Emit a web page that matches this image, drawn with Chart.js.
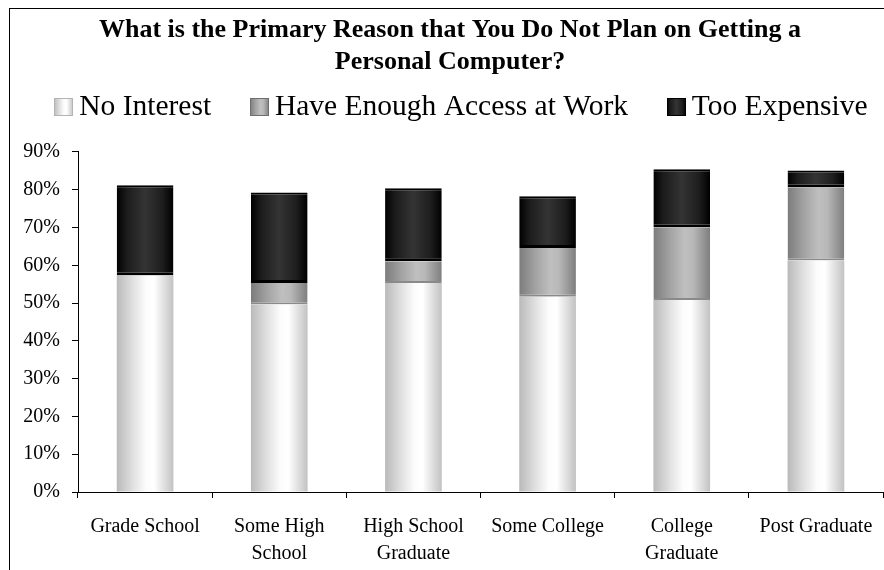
<!DOCTYPE html>
<html>
<head>
<meta charset="utf-8">
<script src="https://cdn.jsdelivr.net/npm/chart.js@4"></script>
<style>
  html, body { margin: 0; padding: 0; background: #fff; overflow: hidden; }
  #quadro { width: 900px; height: 570px; }
</style>
</head>
<body>
<div id="quadro"><canvas id="grafico" width="900" height="570"></canvas></div>
<script>
// Categorias de escolaridade
var categorias = [
  'Grade School',
  ['Some High', 'School'],
  ['High School', 'Graduate'],
  'Some College',
  ['College', 'Graduate'],
  'Post Graduate'
];

// Percentuais por motivo (empilhados)
var semInteresse = [57.3, 49.6, 55.3, 51.7, 50.8, 61.3];
var acessoNoTrabalho = [0, 5.7, 5.8, 12.9, 19.2, 19.3];
var muitoCaro = [23.9, 24.0, 19.3, 13.7, 15.4, 4.5];

var ticksY = [0, 10, 20, 30, 40, 50, 60, 70, 80, 90];

var FONTE = "'Liberation Serif', 'Times New Roman', serif";
var LARGURA_BARRA = 0.4225;

// Paradas do degradê horizontal de cada série (efeito cilindro)
var tonsSemInteresse = [[0, '#bababa'], [0.3, '#e2e2e2'], [0.52, '#fcfcfc'], [0.66, '#ffffff'], [1, '#c2c2c2']];
var tonsAcesso = [[0, '#7c7c7c'], [0.3, '#a4a4a4'], [0.55, '#bfbfbf'], [0.7, '#b8b8b8'], [1, '#7e7e7e']];
var tonsCaro = [[0, '#000000'], [0.18, '#1c1c1c'], [0.5, '#343434'], [0.8, '#1e1e1e'], [1, '#000000']];

function degrade(paradas, solido) {
  return function (ctx) {
    var chart = ctx.chart;
    if (ctx.type !== 'data' || !chart.chartArea) return solido;
    var escalaX = chart.scales.x;
    var centro = escalaX.getPixelForValue(ctx.dataIndex);
    var meia = escalaX.width / categorias.length * LARGURA_BARRA / 2;
    var g = chart.ctx.createLinearGradient(centro - meia, 0, centro + meia, 0);
    paradas.forEach(function (p) { g.addColorStop(p[0], p[1]); });
    return g;
  };
}

// Fundo branco e moldura externa
var moldura = {
  id: 'moldura',
  beforeDraw: function (chart) {
    var c = chart.ctx;
    c.save();
    c.fillStyle = '#fff';
    c.fillRect(0, 0, chart.width, chart.height);
    c.strokeStyle = '#000';
    c.lineWidth = 1;
    c.strokeRect(9.5, 8.5, 881, 600);
    c.restore();
  }
};

// Legenda mais alta e um pouco deslocada, como no Excel
var ALTURA_LEGENDA = 74;
var ajusteLegenda = {
  id: 'ajusteLegenda',
  afterInit: function (chart) {
    var legenda = chart.legend;
    if (!legenda) return;
    var fitOriginal = legenda.fit;
    legenda.fit = function () {
      var larguraMax = this.maxWidth;
      this.maxWidth = larguraMax + 100;
      fitOriginal.call(this);
      this.maxWidth = larguraMax;
      this.width = Math.min(this.width, larguraMax);
      this.height = ALTURA_LEGENDA;
    };
  },
  afterLayout: function (chart) {
    var legenda = chart.legend;
    if (!legenda) return;
    legenda.left += 11 - 30;
    legenda.right += 11 + 30;
    legenda.top -= 24.5;
    legenda.bottom -= 24.5;
  }
};

// Quadradinhos da legenda com o mesmo degradê das barras
var caixasLegenda = {
  id: 'caixasLegenda',
  afterDraw: function (chart) {
    var legenda = chart.legend;
    if (!legenda || !legenda.legendHitBoxes) return;
    var tons = [tonsSemInteresse, tonsAcesso, tonsCaro];
    var bordas = ['#b4b4b4', '#6e6e6e', '#000000'];
    var c = chart.ctx;
    var tam = legenda.options.labels.font.size;
    legenda.legendHitBoxes.forEach(function (hb, i) {
      var w = 19, h = 18;
      var x = Math.round(hb.left), y = Math.round(hb.top + Math.max((tam - h) / 2, 0));
      var g = c.createLinearGradient(x, 0, x + w, 0);
      tons[i].forEach(function (p) { g.addColorStop(p[0], p[1]); });
      c.save();
      c.fillStyle = g;
      c.fillRect(x, y, w, h);
      c.strokeStyle = bordas[i];
      c.lineWidth = 1;
      c.strokeRect(x + 0.5, y + 0.5, w - 1, h - 1);
      c.restore();
    });
  }
};

var ctx = document.getElementById('grafico').getContext('2d');

var grafico = new Chart(ctx, {
  type: 'bar',
  data: {
    labels: categorias,
    datasets: [{
      label: 'No Interest',
      data: semInteresse,
      backgroundColor: degrade(tonsSemInteresse, '#e0e0e0'),
      borderWidth: 0
    }, {
      label: 'Have Enough Access at Work',
      data: acessoNoTrabalho,
      backgroundColor: degrade(tonsAcesso, '#a0a0a0'),
      borderColor: '#8a8a8a',
      borderWidth: { top: 0, left: 0, right: 0, bottom: 2 },
      borderSkipped: false
    }, {
      label: 'Too Expensive',
      data: muitoCaro,
      backgroundColor: degrade(tonsCaro, '#222'),
      borderColor: '#000',
      borderWidth: { top: 2, left: 0, right: 0, bottom: 3 },
      borderSkipped: false
    }]
  },
  options: {
    responsive: false,
    animation: false,
    devicePixelRatio: 1,
    layout: {
      padding: { left: 0, right: 0, top: 0, bottom: 5 }
    },
    datasets: {
      bar: {
        categoryPercentage: 1,
        barPercentage: LARGURA_BARRA
      }
    },
    scales: {
      x: {
        stacked: true,
        afterFit: function (escala) { escala.height = 73; },
        grid: {
          offset: true,
          drawOnChartArea: false,
          drawTicks: true,
          tickLength: 6,
          color: '#000'
        },
        border: { display: true, color: '#000', width: 1 },
        ticks: {
          color: '#000',
          padding: 15,
          maxRotation: 0,
          autoSkip: false,
          font: { family: FONTE, size: 20, lineHeight: 1.35 }
        }
      },
      y: {
        stacked: true,
        min: 0,
        max: 90,
        afterBuildTicks: function (escala) {
          escala.ticks = ticksY.map(function (v) { return { value: v }; });
        },
        afterFit: function (escala) { escala.width = 78; },
        grid: {
          drawOnChartArea: false,
          drawTicks: true,
          tickLength: 6,
          color: '#000'
        },
        border: { display: true, color: '#000', width: 1 },
        ticks: {
          color: '#000',
          padding: 12,
          font: { family: FONTE, size: 20 },
          callback: function (v) { return v + '%'; }
        }
      },
      // eixo vazio à direita só para reservar a margem
      margemDireita: {
        type: 'linear',
        position: 'right',
        display: true,
        grid: { display: false },
        border: { display: false },
        ticks: { display: false },
        afterFit: function (escala) { escala.width = 17; }
      }
    },
    plugins: {
      title: {
        display: true,
        text: ['What is the Primary Reason that You Do Not Plan on Getting a', 'Personal Computer?'],
        color: '#000',
        font: { family: FONTE, size: 26, weight: 'bold', lineHeight: 1.23 },
        padding: { top: 14, bottom: 0 }
      },
      legend: {
        position: 'top',
        labels: {
          color: '#000',
          font: { family: FONTE, size: 29.5 },
          boxWidth: 10,
          boxHeight: 18,
          padding: 39,
          generateLabels: function (chart) {
            var itens = Chart.defaults.plugins.legend.labels.generateLabels(chart);
            itens.forEach(function (item) {
              item.fillStyle = 'rgba(0,0,0,0)';
              item.strokeStyle = 'rgba(0,0,0,0)';
              item.lineWidth = 0;
            });
            return itens;
          }
        }
      },
      tooltip: { enabled: false }
    }
  },
  plugins: [moldura, ajusteLegenda, caixasLegenda]
});

// segunda passada para os degradês usarem a área já calculada
grafico.update();
</script>
</body>
</html>
